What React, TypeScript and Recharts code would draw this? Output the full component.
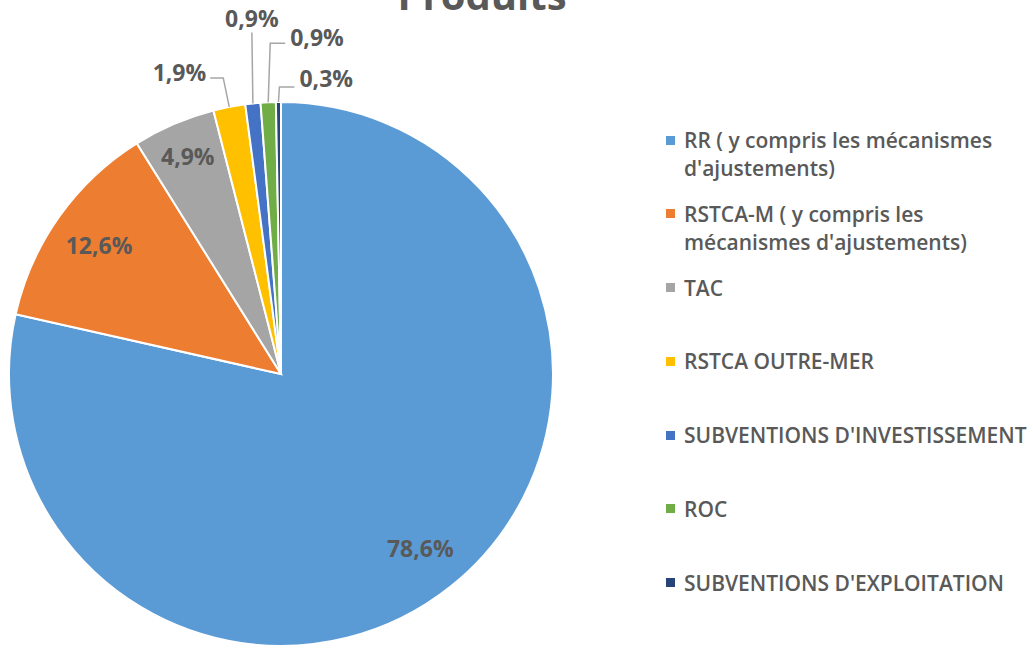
import { PieChart, Pie, Cell, Legend } from "recharts";

const CATEGORIES = [
  "RR ( y compris les mécanismes d'ajustements)",
  "RSTCA-M ( y compris les mécanismes d'ajustements)",
  "TAC",
  "RSTCA OUTRE-MER",
  "SUBVENTIONS D'INVESTISSEMENT",
  "ROC",
  "SUBVENTIONS D'EXPLOITATION",
];

const VALUES = [78.6, 12.6, 4.9, 1.9, 0.9, 0.9, 0.3];

const COLORS = [
  "#5b9bd5",
  "#ed7d31",
  "#a5a5a5",
  "#ffc000",
  "#4472c4",
  "#70ad47",
  "#264478",
];

const data = CATEGORIES.map((name, i) => ({ name, value: VALUES[i] }));

const RADIAN = Math.PI / 180;
const TEXT = "#595959";
const FONT = "'Open Sans', sans-serif";

// inside labels: radius ratio; outside labels: leader elbow offsets
const INSIDE_RATIO: Record<number, number> = { 0: 0.82, 1: 0.82, 2: 0.87 };
const LEADERS: Record<number, { ex: number; ey: number; hx: number }> = {
  3: { ex: -6, ey: 29, hx: -13 },
  4: { ex: -1, ey: 71, hx: 0 },
  5: { ex: 2, ey: 59, hx: 15 },
  6: { ex: 1, ey: 15, hx: 15 },
};

const fmt = (v: number) => v.toFixed(1).replace(".", ",") + "%";

const renderLabel = (props: any) => {
  const { cx, cy, midAngle, outerRadius, index, value } = props;
  const cos = Math.cos(-midAngle * RADIAN);
  const sin = Math.sin(-midAngle * RADIAN);
  const textStyle = {
    fontFamily: FONT,
    fontWeight: 700,
    fontSize: 23,
    fill: TEXT,
  };

  if (INSIDE_RATIO[index] !== undefined) {
    const r = outerRadius * INSIDE_RATIO[index];
    return (
      <text
        x={cx + r * cos}
        y={cy + r * sin}
        textAnchor="middle"
        dominantBaseline="central"
        style={textStyle}
      >
        {fmt(value)}
      </text>
    );
  }

  const l = LEADERS[index];
  const sx = cx + outerRadius * cos;
  const sy = cy + outerRadius * sin;
  const mx = sx + l.ex;
  const my = sy - l.ey;
  const exX = mx + l.hx;

  let tx = exX;
  let ty = my - 6;
  let anchor: "start" | "middle" | "end" = "middle";
  if (l.hx > 0) {
    tx = exX + 5;
    anchor = "start";
    if (index === 6) ty = my - 9;
  } else if (l.hx < 0) {
    tx = exX - 4;
    anchor = "end";
  } else {
    ty = my - 14;
  }

  return (
    <g>
      <polyline
        points={`${sx},${sy} ${mx},${my} ${exX},${my}`}
        fill="none"
        stroke="#a6a6a6"
        strokeWidth={1.5}
      />
      <text
        x={tx}
        y={ty}
        textAnchor={anchor}
        dominantBaseline="central"
        style={textStyle}
      >
        {fmt(value)}
      </text>
    </g>
  );
};

const renderLegend = () => (
  <div style={{ fontFamily: FONT }}>
    {CATEGORIES.map((name, i) => (
      <div
        key={`legend-${i}`}
        style={{ display: "flex", alignItems: "flex-start", height: 73.8 }}
      >
        <span
          style={{
            display: "inline-block",
            width: 9,
            height: 9,
            marginTop: 9.5,
            marginRight: 9,
            backgroundColor: COLORS[i],
            flexShrink: 0,
          }}
        ></span>
        <span
          style={{
            color: TEXT,
            fontSize: 21,
            fontWeight: 600,
            lineHeight: "28px",
            width: 349,
          }}
        >
          {name}
        </span>
      </div>
    ))}
  </div>
);

export default function App() {
  return (
    <div
      style={{
        position: "absolute",
        left: 0,
        top: 0,
        width: 1033,
        height: 648,
        background: "#fff",
        overflow: "hidden",
      }}
    >
      <div
        style={{
          position: "absolute",
          left: 0,
          width: 964,
          top: -33,
          textAlign: "center",
          fontFamily: FONT,
          fontWeight: 700,
          fontSize: 40,
          color: TEXT,
          lineHeight: "56px",
        }}
      >
        Produits
      </div>
      <PieChart
        width={1033}
        height={648}
        margin={{ top: 0, right: 0, bottom: 0, left: 0 }}
      >
        <Pie
          data={data}
          dataKey="value"
          nameKey="name"
          cx={281}
          cy={374}
          outerRadius={272}
          startAngle={90}
          endAngle={-270}
          stroke="#fff"
          strokeWidth={2}
          label={renderLabel}
          labelLine={false}
          isAnimationActive={false}
        >
          {data.map((_, index) => (
            <Cell key={`cell-${index}`} fill={COLORS[index]} />
          ))}
        </Pie>
        <Legend
          content={renderLegend}
          wrapperStyle={{ left: 666, top: 126, width: 367 }}
        />
      </PieChart>
    </div>
  );
}
